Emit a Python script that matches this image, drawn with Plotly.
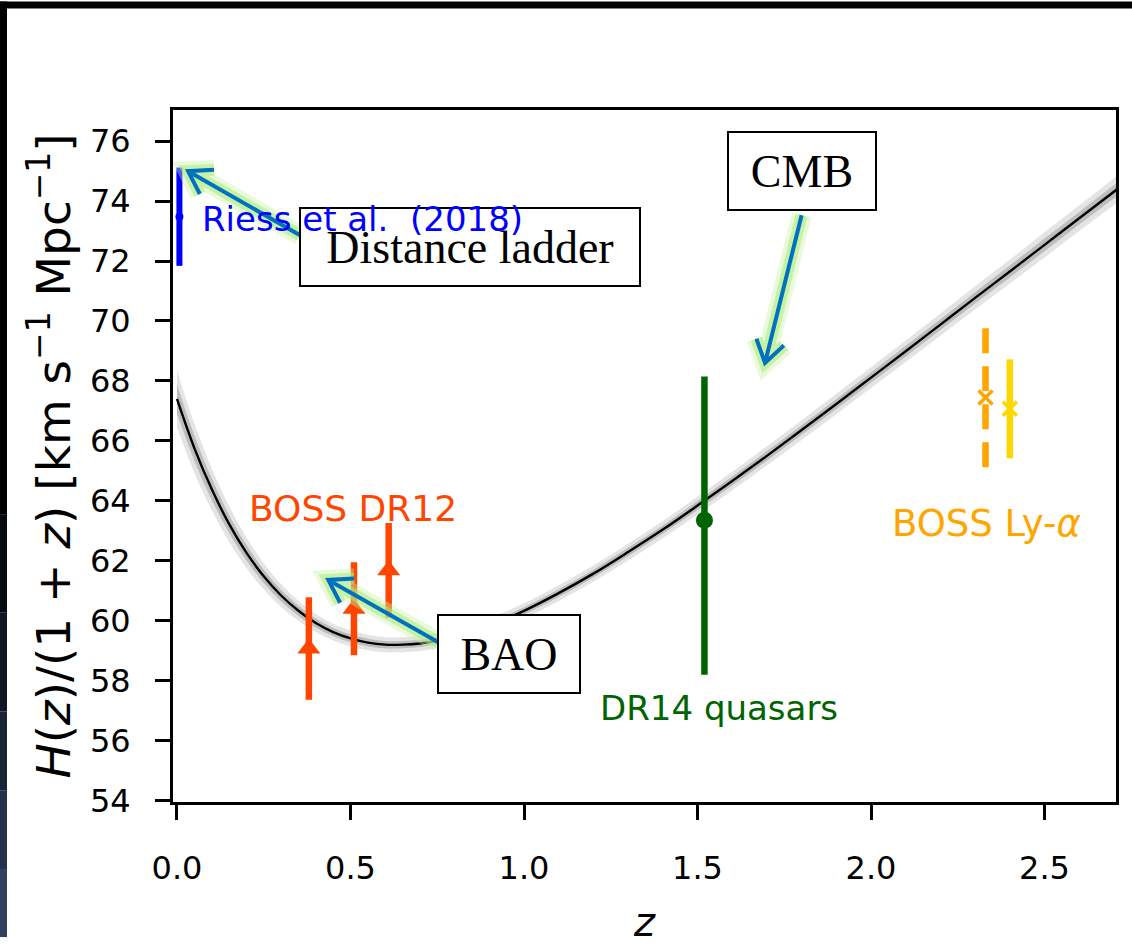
import math
import plotly.graph_objects as go

# ---- LCDM curve H(z)/(1+z) with its 68% and 95% bands ----
curve_z = [0.0, 0.05, 0.1, 0.15, 0.2, 0.25, 0.3, 0.35, 0.4, 0.45,
           0.5, 0.55, 0.6, 0.65, 0.7, 0.75, 0.8, 0.9, 1.0, 1.1,
           1.2, 1.3, 1.4, 1.5, 1.6, 1.7, 1.8, 1.9, 2.0, 2.1,
           2.2, 2.3, 2.4, 2.5, 2.6, 2.72]
curve_h = [67.40, 65.76, 64.39, 63.23, 62.27, 61.48, 60.84, 60.33, 59.92, 59.62,
           59.41, 59.27, 59.20, 59.20, 59.24, 59.33, 59.47, 59.84, 60.33, 60.92,
           61.57, 62.29, 63.04, 63.84, 64.66, 65.50, 66.36, 67.23, 68.11, 68.99,
           69.88, 70.77, 71.65, 72.54, 73.43, 74.49]
band95 = [0.95, 0.82, 0.70, 0.60, 0.51, 0.44, 0.38, 0.33, 0.30, 0.28,
          0.27, 0.26, 0.25, 0.25, 0.25, 0.25, 0.25, 0.25, 0.25, 0.26,
          0.27, 0.28, 0.29, 0.30, 0.31, 0.32, 0.33, 0.34, 0.35, 0.36,
          0.37, 0.39, 0.40, 0.42, 0.43, 0.45]
band68 = [0.48, 0.42, 0.36, 0.30, 0.26, 0.22, 0.19, 0.17, 0.15, 0.14,
          0.13, 0.13, 0.12, 0.12, 0.12, 0.12, 0.12, 0.12, 0.12, 0.13,
          0.13, 0.14, 0.14, 0.15, 0.15, 0.16, 0.16, 0.17, 0.17, 0.18,
          0.18, 0.19, 0.20, 0.21, 0.21, 0.22]

# ---- measurements ----
riess_z = [0.007]
riess_h = [73.48]
riess_err = [1.64]

dr12_z = [0.38, 0.51, 0.61]
dr12_h = [59.07, 60.40, 61.68]
dr12_err = [1.71, 1.55, 1.58]

dr14_z = [1.52]
dr14_h = [63.35]
dr14_err_plus = [4.80]
dr14_err_minus = [5.15]

lya_z = [2.33, 2.40]
lya_h = [67.45, 67.07]
lya_err = [2.33, 1.65]

# ---- axes ----
x_range = [-0.0115, 2.706]
y_range = [53.95, 77.04]
x_ticks = [0.0, 0.5, 1.0, 1.5, 2.0, 2.5]
y_ticks = [54, 56, 58, 60, 62, 64, 66, 68, 70, 72, 74, 76]

W, H = 1132, 949
ML, MR, MT, MB = 173, 16, 110, 137
PW, PH = W - ML - MR, H - MT - MB

SANS = "DejaVu Sans"
SERIF = "Liberation Serif"
C_RIESS = "#0000ff"
C_DR12 = "#ff4500"
C_DR14 = "#006400"
C_LYA1 = "#ffa500"
C_LYA2 = "#ffd700"

fig = go.Figure()

up95 = [h + b for h, b in zip(curve_h, band95)]
lo95 = [h - b for h, b in zip(curve_h, band95)]
up68 = [h + b for h, b in zip(curve_h, band68)]
lo68 = [h - b for h, b in zip(curve_h, band68)]

for lo, up, col in [(lo95, up95, "#e4e4e4"), (lo68, up68, "#bdbdbd")]:
    fig.add_trace(go.Scatter(x=curve_z, y=lo, mode="lines", line=dict(width=0, shape="spline"),
                             showlegend=False, hoverinfo="skip"))
    fig.add_trace(go.Scatter(x=curve_z, y=up, mode="lines", line=dict(width=0, shape="spline"),
                             fill="tonexty", fillcolor=col, showlegend=False, hoverinfo="skip"))

fig.add_trace(go.Scatter(x=curve_z, y=curve_h, mode="lines",
                         line=dict(color="black", width=2.4, shape="spline"), showlegend=False))

# Riess et al. (2018)
fig.add_trace(go.Scatter(
    x=riess_z, y=riess_h, mode="markers",
    marker=dict(color=C_RIESS, size=8),
    error_y=dict(type="data", array=riess_err, color=C_RIESS, thickness=6, width=0),
    showlegend=False))

# BOSS DR12
fig.add_trace(go.Scatter(
    x=dr12_z, y=dr12_h, mode="markers",
    marker=dict(color=C_DR12, size=20, symbol="triangle-up"),
    error_y=dict(type="data", array=dr12_err, color=C_DR12, thickness=6.5, width=0),
    showlegend=False))

# DR14 quasars
fig.add_trace(go.Scatter(
    x=dr14_z, y=dr14_h, mode="markers",
    marker=dict(color=C_DR14, size=17),
    error_y=dict(type="data", symmetric=False, array=dr14_err_plus, arrayminus=dr14_err_minus,
                 color=C_DR14, thickness=6.5, width=0),
    showlegend=False))

# BOSS Ly-alpha: auto-correlation (dashed) and cross-correlation (solid)
fig.add_trace(go.Scatter(
    x=[lya_z[0], lya_z[0]], y=[lya_h[0] - lya_err[0], lya_h[0] + lya_err[0]], mode="lines",
    line=dict(color=C_LYA1, width=6.5, dash="25px,13px"), showlegend=False))
fig.add_trace(go.Scatter(
    x=[lya_z[1]], y=[lya_h[1]], mode="markers",
    marker=dict(color=C_LYA2, size=1, opacity=0),
    error_y=dict(type="data", array=[lya_err[1]], color=C_LYA2, thickness=6.5, width=0),
    showlegend=False))
fig.add_trace(go.Scatter(
    x=lya_z, y=lya_h, mode="markers",
    marker=dict(symbol="x-thin", size=14, color=[C_LYA1, C_LYA2],
                line=dict(width=3.5, color=[C_LYA1, C_LYA2])),
    showlegend=False))


# ---- pixel <-> data helpers for the annotation arrows ----
def to_px(x, y):
    return (ML + (x - x_range[0]) / (x_range[1] - x_range[0]) * PW,
            MT + (y_range[1] - y) / (y_range[1] - y_range[0]) * PH)


def to_data(px, py):
    return (x_range[0] + (px - ML) / PW * (x_range[1] - x_range[0]),
            y_range[1] - (py - MT) / PH * (y_range[1] - y_range[0]))


def arrow_path(tail, tip, head=26, spread=33):
    tx, ty = to_px(*tail)
    hx, hy = to_px(*tip)
    back = math.atan2(ty - hy, tx - hx)
    wings = []
    for s in (1, -1):
        a = back + s * math.radians(spread)
        wings.append(to_data(hx + head * math.cos(a), hy + head * math.sin(a)))
    (w1x, w1y), (w2x, w2y) = wings
    return (f"M{tail[0]},{tail[1]} L{tip[0]},{tip[1]} "
            f"M{w1x},{w1y} L{tip[0]},{tip[1]} L{w2x},{w2y}")


arrows = [
    ((0.3545, 72.86), (0.032, 75.0)),     # Distance ladder -> Riess
    ((1.800, 73.53), (1.6945, 68.60)),    # CMB -> curve
    ((0.753, 59.28), (0.436, 61.36)),     # BAO -> DR12
]

shapes = []
for tail, tip in arrows:
    p = arrow_path(tail, tip)
    shapes.append(dict(type="path", path=p, xref="x", yref="y", layer="above",
                       line=dict(color="rgba(200,243,165,0.4)", width=20)))
    shapes.append(dict(type="path", path=p, xref="x", yref="y", layer="above",
                       line=dict(color="rgba(170,235,120,0.55)", width=12)))
    shapes.append(dict(type="path", path=p, xref="x", yref="y", layer="above",
                       line=dict(color="#0070c0", width=4)))


# dark frame along the top and left edges of the page
def px2paper_x(px):
    return (px - ML) / PW


def px2paper_y(py):
    return (MT + PH - py) / PH


shapes.append(dict(type="rect", xref="paper", yref="paper", layer="above",
                   x0=px2paper_x(0), x1=px2paper_x(W), y0=px2paper_y(7), y1=px2paper_y(0),
                   fillcolor="black", line=dict(width=0)))
frame_steps = [(0, 520, "#000000"), (520, 620, "#070a10"), (620, 720, "#101623"),
               (720, 800, "#1b2436"), (800, 880, "#26324b"), (880, 949, "#30405e")]
for y0, y1, col in frame_steps:
    shapes.append(dict(type="rect", xref="paper", yref="paper", layer="above",
                       x0=px2paper_x(0), x1=px2paper_x(7), y0=px2paper_y(y1), y1=px2paper_y(y0),
                       fillcolor=col, line=dict(width=0)))

annotations = []

# labelled boxes
boxes = [
    ("Distance ladder", 0.8444, 72.47, 338),
    ("CMB", 1.801, 75.0, 146),
    ("BAO", 0.9568, 58.88, 140),
]
for txt, bx, by, bw in boxes:
    annotations.append(dict(x=bx, y=by, text=txt, showarrow=False, xanchor="center", yanchor="middle",
                            width=bw, height=76, align="center", valign="middle",
                            bgcolor="white", bordercolor="black", borderwidth=2, borderpad=0,
                            font=dict(family=SERIF, size=46, color="black")))

# dataset labels, drawn over the boxes
annotations += [
    dict(x=0.066, y=73.40, text="Riess et al.\u00a0 (2018)", showarrow=False,
         xanchor="left", yanchor="middle", font=dict(family=SANS, size=34, color=C_RIESS)),
    dict(x=0.2017, y=63.75, text="BOSS DR12", showarrow=False,
         xanchor="left", yanchor="middle", font=dict(family=SANS, size=36, color=C_DR12)),
    dict(x=1.213, y=57.10, text="DR14 quasars", showarrow=False,
         xanchor="left", yanchor="middle", font=dict(family=SANS, size=34, color=C_DR14)),
    dict(x=2.055, y=63.25, text="BOSS Ly-<i>α</i>", showarrow=False,
         xanchor="left", yanchor="middle", font=dict(family=SANS, size=37, color=C_LYA1)),
]

axis_common = dict(showline=True, linecolor="black", linewidth=3, mirror=True,
                   ticks="outside", ticklen=15, tickwidth=3, tickcolor="black",
                   showgrid=False, zeroline=False,
                   tickfont=dict(family=SANS, size=32, color="black"))

fig.update_layout(
    width=W, height=H,
    margin=dict(l=ML, r=MR, t=MT, b=MB),
    paper_bgcolor="white", plot_bgcolor="white",
    xaxis=dict(range=x_range, tickvals=x_ticks, tickformat=".1f", ticklabelstandoff=21,
               title=dict(text="<i>z</i>", standoff=22, font=dict(family=SANS, size=40, color="black")),
               **axis_common),
    yaxis=dict(range=y_range, tickvals=y_ticks, ticklabelstandoff=18,
               title=dict(text="<i>H</i>(<i>z</i>)/(1 + <i>z</i>) [km s<sup>−1</sup> Mpc<sup>−1</sup>]",
                          standoff=5, font=dict(family=SANS, size=47, color="black")),
               **axis_common),
    shapes=shapes,
    annotations=annotations,
    showlegend=False,
)

fig.write_html("out.html", config={"displayModeBar": False})
